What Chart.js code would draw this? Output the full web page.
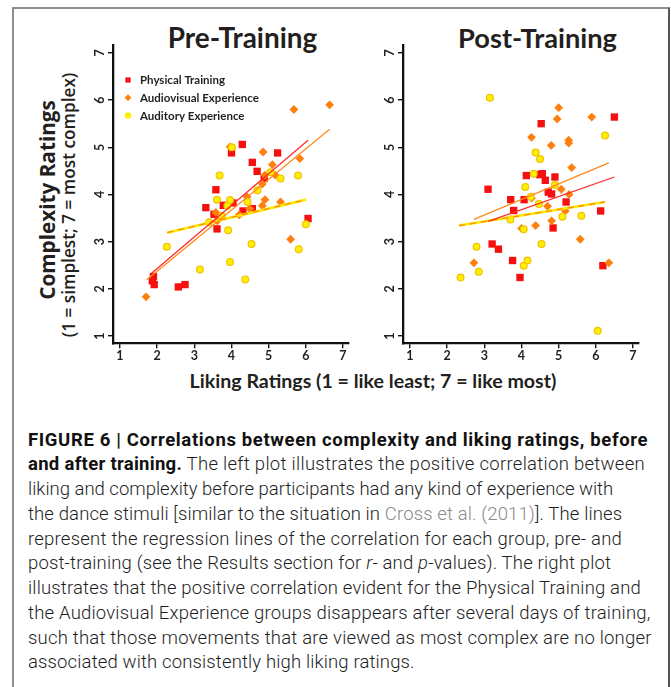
<!DOCTYPE html>
<html><head><meta charset="utf-8">
<script src="https://cdn.jsdelivr.net/npm/chart.js@4.4.1/dist/chart.umd.min.js"></script>
<style>
html,body{margin:0;padding:0;background:#fff;}
#page{position:relative;width:671px;height:687px;overflow:hidden;background:#fff;}
#frame{position:absolute;left:12px;top:7px;width:654px;height:720px;border-left:2px solid #8e8e8e;border-top:2px solid #8e8e8e;border-right:2px solid #555;}
.t{position:absolute;white-space:nowrap;font-family:Lato,sans-serif;font-weight:700;color:#231f20;transform:translate(-50%,-50%);line-height:1;}
.os{font-family:"Open Sans",sans-serif;}
.rot{transform:translate(-50%,-50%) rotate(-90deg);}
canvas{position:absolute;}
.cap{position:absolute;left:28px;white-space:nowrap;font-family:Roboto,sans-serif;font-weight:300;font-size:18.5px;line-height:25px;height:25px;color:#1e1e1e;}
.cap b{font-weight:700;color:#111;}
.gray{color:#8a8a8a;}
</style>
</head>
<body>
<div id="page">
  <div id="frame"></div>
  <div class="t" id="preTitle" style="left:242.5px;top:37.5px;font-size:24px;">Pre-Training</div>
  <div class="t" id="postTitle" style="left:537.5px;top:37.5px;font-size:24px;">Post-Training</div>
  <div class="t rot os" id="yTitle1" style="left:47px;top:200px;font-size:17px;">Complexity Ratings</div>
  <div class="t rot os" id="yTitle2" style="left:69px;top:204.5px;font-size:16px;font-weight:600;">(1 = simplest; 7 = most complex)</div>
  <div class="t" id="xTitle" style="left:373px;top:381px;font-size:17px;">Liking Ratings (1 = like least; 7 = like most)</div>
  <canvas id="pre" width="300" height="330" style="left:60px;top:40px;"></canvas>
  <canvas id="post" width="300" height="330" style="left:350px;top:40px;"></canvas>
  <div id="caption"></div>
</div>
<script>
// ---------- data ----------
const axisTicks = [1, 2, 3, 4, 5, 6, 7];
const groupLabels = ['Physical Training', 'Audiovisual Experience', 'Auditory Experience'];

// Pre-Training
const prePhysX = [1.90,1.87,1.92,2.57,2.75,3.31,3.58,3.53,3.61,3.78,4.04,4.00,4.29,4.31,4.56,4.56,4.69,4.88,5.24,6.06];
const prePhysY = [2.26,2.17,2.09,2.04,2.09,3.72,4.10,3.58,3.27,3.77,3.82,4.88,5.06,3.65,3.70,4.68,4.49,4.34,4.88,3.49];
const preAvX = [1.70,3.96,4.85,5.10,4.90,4.83,5.18,4.42,4.90,4.83,5.32,4.21,4.49,3.58,3.62,5.68,6.64,5.84,5.59];
const preAvY = [1.83,5.01,4.90,4.63,4.41,4.22,4.41,3.95,3.89,3.76,3.84,3.57,3.70,3.62,3.44,5.80,5.90,4.76,3.05];
const preAudX = [2.26,3.15,3.40,3.74,3.68,3.61,3.89,3.96,4.01,3.91,3.96,4.37,4.54,4.43,4.70,5.05,5.32,5.79,5.81,6.00];
const preAudY = [2.89,2.41,3.41,3.55,4.40,3.89,3.76,3.88,5.00,3.24,2.57,2.20,2.95,3.84,4.09,4.47,4.34,4.40,2.84,3.37];
// regression line end points [x0, x1], [y0, y1]
const preRegPhysX = [1.85, 6.06], preRegPhysY = [2.33, 5.15];
const preRegAvX = [1.72, 6.64], preRegAvY = [2.19, 5.38];
const preRegAudX = [2.27, 6.01], preRegAudY = [3.19, 3.89];

// Post-Training
const postPhysX = [3.10,3.21,3.38,3.71,3.79,3.76,3.96,4.07,4.13,4.53,4.49,4.56,4.64,4.72,4.81,4.90,4.85,5.20,6.13,6.19,6.50];
const postPhysY = [4.11,2.95,2.84,3.89,3.66,2.60,2.24,3.89,4.40,5.50,4.42,4.44,4.30,4.05,4.01,4.37,3.29,3.84,3.65,2.49,5.64];
const postAvX = [2.72,4.00,4.27,4.27,4.38,4.80,4.70,4.81,5.00,4.96,5.07,5.18,5.27,5.27,5.28,5.35,5.58,5.89,6.35];
const postAvY = [2.55,3.28,3.92,5.21,3.34,5.04,3.75,3.44,5.84,5.60,4.11,3.65,5.15,5.09,4.00,4.57,3.05,5.64,2.55];
const postAudX = [2.36,2.79,2.85,3.15,3.70,4.06,4.06,4.16,4.10,4.25,4.33,4.38,4.50,4.47,4.54,4.90,5.10,5.61,6.05,6.25];
const postAudY = [2.24,2.89,2.36,6.05,3.47,3.26,2.49,2.60,4.16,3.95,4.44,4.89,4.75,3.80,2.95,4.20,3.53,3.55,1.11,5.25];
const postRegPhysX = [3.10, 6.50], postRegPhysY = [3.43, 4.37];
const postRegAvX = [2.72, 6.35], postRegAvY = [3.47, 4.67];
const postRegAudX = [2.32, 6.24], postRegAudY = [3.34, 3.84];

// ---------- styles ----------
const RED = '#f50f0f', ORANGE = '#ff7f0e', YELLOW = '#fff000', YEDGE = '#f2c200';
const XMIN = 0.8117, XMAX = 7.143, YMIN = 0.8454, YMAX = 7.163;
const TICKFONT = 'Lato';

function pts(xs, ys) { return xs.map((x, i) => ({x: x, y: ys[i]})); }

const insetLegend = {
  id: 'insetLegend',
  afterDatasetsDraw(chart, args, opts) {
    if (!opts.show) return;
    const ctx = chart.ctx;
    const items = chart.data.datasets.filter(d => d.inLegend)
      .sort((a, b) => groupLabels.indexOf(a.label) - groupLabels.indexOf(b.label));
    ctx.save();
    items.forEach((d, i) => {
      const x = opts.x, y = opts.y + i * opts.dy;
      ctx.fillStyle = d.backgroundColor;
      ctx.beginPath();
      if (d.pointStyle === 'rect') { ctx.rect(x - 2.6, y - 2.6, 5.2, 5.2); }
      else if (d.pointStyle === 'rectRot') { ctx.moveTo(x, y - 3.4); ctx.lineTo(x + 3.4, y); ctx.lineTo(x, y + 3.4); ctx.lineTo(x - 3.4, y); ctx.closePath(); }
      else { ctx.arc(x, y, 3.2, 0, Math.PI * 2); }
      ctx.fill();
      ctx.fillStyle = '#231f20';
      ctx.font = 'bold 11.5px Lato';
      ctx.textAlign = 'left';
      ctx.textBaseline = 'middle';
      ctx.fillText(d.label, opts.textX, y + 0.5);
    });
    ctx.restore();
  }
};

const yTicksRotated = {
  id: 'yTicksRotated',
  afterDraw(chart) {
    const s = chart.scales.y, ctx = chart.ctx;
    ctx.save();
    ctx.font = 'bold 12.5px ' + TICKFONT;
    ctx.fillStyle = '#231f20';
    ctx.textAlign = 'center';
    ctx.textBaseline = 'middle';
    s.ticks.forEach(t => {
      const py = s.getPixelForValue(t.value);
      ctx.save();
      ctx.translate(chart.chartArea.left - 13.5, py);
      ctx.rotate(-Math.PI / 2);
      ctx.fillText(String(t.value), 0, 0);
      ctx.restore();
    });
    ctx.restore();
  }
};

function makeChart(id, phys, av, aud, regPhys, regAv, regAud, showLegend) {
  const lineBase = {showLine: true, pointRadius: 0, fill: false, clip: false, order: 0};
  return new Chart(document.getElementById(id), {
    type: 'scatter',
    data: {datasets: [
      Object.assign({label: 'fit-phys', data: regPhys, borderColor: '#ff2a2a', borderWidth: 1.3}, lineBase),
      Object.assign({label: 'fit-av', data: regAv, borderColor: '#ff8a1c', borderWidth: 1.3}, lineBase),
      Object.assign({label: 'fit-aud-dash', data: regAud, borderColor: '#ff8c00', borderWidth: 1.3, borderDash: [6, 5]}, lineBase),
      Object.assign({label: 'fit-aud', data: regAud, borderColor: '#ffe800', borderWidth: 2.6}, lineBase, {order: 0.5}),
      {label: groupLabels[2], data: aud, pointStyle: 'circle', pointRadius: 3.4, backgroundColor: YELLOW, borderColor: YEDGE, borderWidth: 1.2, order: 1, clip: false, inLegend: true},
      {label: groupLabels[1], data: av, pointStyle: 'rectRot', pointRadius: 4.4, backgroundColor: ORANGE, borderColor: ORANGE, borderWidth: 0, order: 2, clip: false, inLegend: true},
      {label: groupLabels[0], data: phys, pointStyle: 'rect', pointRadius: 5.2, backgroundColor: RED, borderColor: RED, borderWidth: 0, order: 3, clip: false, inLegend: true}
    ]},
    options: {
      responsive: false, animation: false, events: [],
      layout: {padding: {left: 0, right: 11.7, top: 5, bottom: 0}},
      plugins: {
        legend: {display: false}, tooltip: {enabled: false},
        insetLegend: {show: showLegend, x: 68, y: 40, dy: 17.7, textX: 80}
      },
      scales: {
        x: {
          type: 'linear', min: XMIN, max: XMAX,
          afterBuildTicks: s => { s.ticks = axisTicks.map(v => ({value: v})); },
          afterFit: s => { s.height = 26.7; },
          border: {display: true, color: '#111', width: 2.3},
          grid: {drawOnChartArea: false, drawTicks: true, tickLength: 5, color: '#111', lineWidth: 1.4},
          ticks: {font: {family: TICKFONT, weight: 'bold', size: 12.5}, color: '#231f20', padding: 0, maxRotation: 0, autoSkip: false}
        },
        y: {
          type: 'linear', min: YMIN, max: YMAX,
          afterBuildTicks: s => { s.ticks = axisTicks.map(v => ({value: v})); },
          afterFit: s => { s.width = 53; },
          border: {display: true, color: '#111', width: 2.3},
          grid: {drawOnChartArea: false, drawTicks: true, tickLength: 5, color: '#111', lineWidth: 1.4},
          ticks: {display: false}
        }
      }
    },
    plugins: [insetLegend, yTicksRotated]
  });
}

// ---------- caption ----------
const captionLines = [
  '<b>FIGURE 6 | Correlations between complexity and liking ratings, before</b>',
  '<b>and after training.</b> The left plot illustrates the positive correlation between',
  'liking and complexity before participants had any kind of experience with',
  'the dance stimuli [similar to the situation in <span class="gray">Cross et al. (2011)</span>]. The lines',
  'represent the regression lines of the correlation for each group, pre- and',
  'post-training (see the Results section for <i>r</i>- and <i>p</i>-values). The right plot',
  'illustrates that the positive correlation evident for the Physical Training and',
  'the Audiovisual Experience groups disappears after several days of training,',
  'such that those movements that are viewed as most complex are no longer',
  'associated with consistently high liking ratings.'
];
const captionLineEnds = [648, 645, 613, 622, 622, 611, 641, 651, 652, 415];

const cap = document.getElementById('caption');
const capEls = captionLines.map((html, i) => {
  const d = document.createElement('div');
  d.className = 'cap';
  d.innerHTML = html;
  d.style.top = (440 + 24.75 * i - 12.5) + 'px';
  cap.appendChild(d);
  return d;
});
// fit each line's length to the reference by letter spacing
capEls.forEach((el, i) => {
  const target = captionLineEnds[i] - 28;
  const n = el.textContent.length;
  const ls = (target - el.offsetWidth) / n;
  el.style.letterSpacing = ls + 'px';
});

function fitWidth(id, target) {
  const el = document.getElementById(id);
  const fs = parseFloat(el.style.fontSize);
  el.style.fontSize = (fs * target / el.offsetWidth) + 'px';
}
fitWidth('preTitle', 149);
fitWidth('postTitle', 159);
fitWidth('yTitle1', 200);
fitWidth('yTitle2', 265);
fitWidth('xTitle', 367);

makeChart('pre', pts(prePhysX, prePhysY), pts(preAvX, preAvY), pts(preAudX, preAudY),
  pts(preRegPhysX, preRegPhysY), pts(preRegAvX, preRegAvY), pts(preRegAudX, preRegAudY), true);
makeChart('post', pts(postPhysX, postPhysY), pts(postAvX, postAvY), pts(postAudX, postAudY),
  pts(postRegPhysX, postRegPhysY), pts(postRegAvX, postRegAvY), pts(postRegAudX, postRegAudY), false);
</script>
</body></html>
